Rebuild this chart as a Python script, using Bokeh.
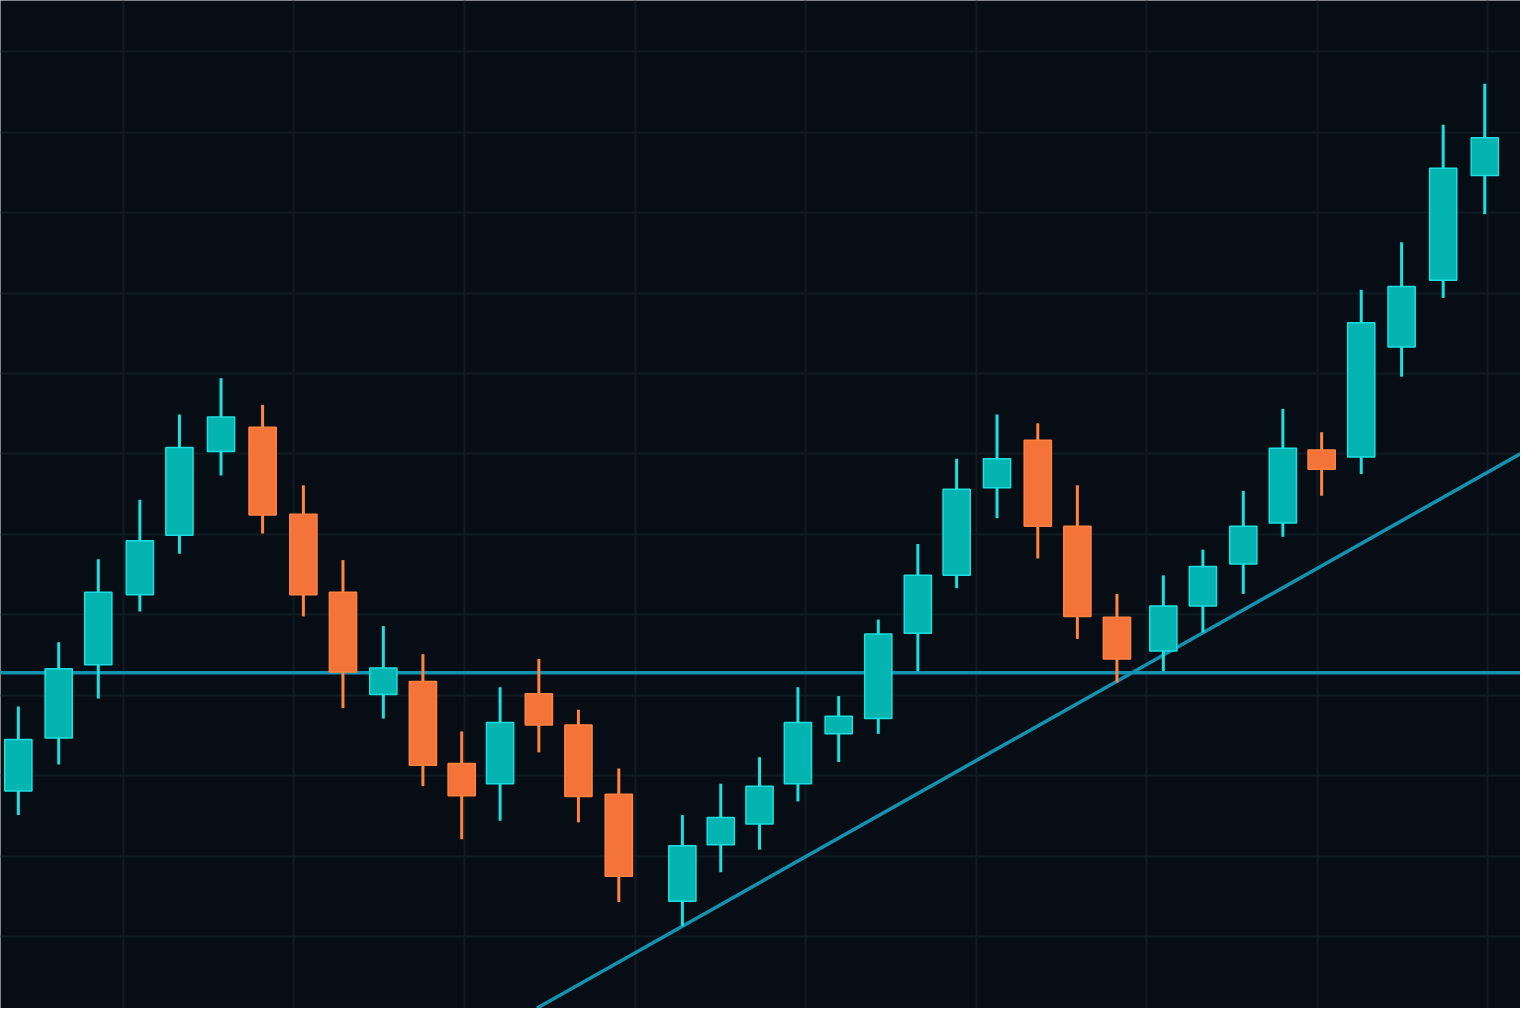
from bokeh.plotting import figure
from bokeh.models import ColumnDataSource, FixedTicker, Range1d
from bokeh.embed import file_html
from bokeh.resources import INLINE

# ---- data (session index, OHLC prices) ----
t = [0, 1.01, 2.0, 3.04, 4.03, 5.07, 6.11, 7.13, 8.12, 9.13, 10.12, 11.09, 12.05,
     13.02, 14.01, 15.02, 16.61, 17.57, 18.54, 19.5, 20.52, 21.51, 22.5, 23.47,
     24.48, 25.5, 26.49, 27.48, 28.64, 29.63, 30.64, 31.63, 32.6, 33.59, 34.6,
     35.64, 36.68]
open_ = [118.1, 124.7, 133.8, 142.5, 149.9, 160.3, 163.3, 152.5, 142.8, 130.1, 131.7,
         121.5, 119.0, 130.2, 126.3, 117.7, 104.4, 111.4, 114.0, 119.0, 125.2, 127.1,
         137.7, 144.9, 155.8, 161.7, 151.0, 139.7, 135.5, 141.1, 146.3, 151.4, 160.5,
         159.6, 173.3, 181.6, 194.6]
high = [128.6, 136.6, 146.9, 154.3, 164.9, 169.4, 166.1, 156.1, 146.8, 138.6, 135.1,
        125.5, 131.0, 134.5, 128.2, 120.9, 115.1, 119.0, 122.3, 131.0, 129.9, 139.4,
        148.8, 159.4, 164.9, 163.8, 156.1, 142.6, 144.9, 148.1, 155.4, 165.6, 162.7,
        180.4, 186.3, 200.9, 206.0]
low = [115.1, 121.4, 129.6, 140.4, 147.6, 157.3, 150.1, 139.8, 128.4, 127.1, 118.7,
       112.1, 114.4, 122.9, 114.2, 104.3, 101.3, 108.0, 110.8, 116.8, 121.7, 125.2,
       133.0, 143.3, 152.0, 147.0, 137.0, 131.6, 133.0, 137.8, 142.6, 149.7, 154.8,
       157.5, 169.6, 179.4, 189.8]
close = [124.5, 133.3, 142.8, 149.2, 160.8, 164.6, 152.4, 142.5, 132.9, 133.4, 121.3,
         117.5, 126.6, 126.3, 117.4, 107.5, 111.3, 114.8, 118.7, 126.6, 127.4, 137.6,
         144.9, 155.6, 159.4, 151.0, 139.8, 134.5, 141.1, 146.0, 151.0, 160.7, 158.1,
         176.3, 180.8, 195.5, 199.3]

support_level = [132.8]
trend_t = [12.97, 37.57]
trend_p = [91.1, 160.0]

x_grid = [2.62, 6.89, 11.16, 15.43, 19.69, 23.96, 28.23, 32.50, 36.76]
y_grid = [90, 100, 110, 120, 130, 140, 150, 160, 170, 180, 190, 200, 210]

# ---- styling ----
BG = "#070d15"
GRID = "#101a23"
UP_FILL, UP_LINE = "#03b4b1", "#1ddfe0"
DN_FILL, DN_LINE = "#f47338", "#ff8442"
LEVEL = "#1592b0"

up = [c >= o for o, c in zip(open_, close)]

def subset(mask):
    idx = [i for i, m in enumerate(mask) if m]
    return ColumnDataSource(dict(
        t=[t[i] for i in idx],
        high=[high[i] for i in idx],
        low=[low[i] for i in idx],
        top=[max(open_[i], close[i]) for i in idx],
        bottom=[min(open_[i], close[i]) for i in idx],
    ))

src_up = subset(up)
src_dn = subset([not u for u in up])

p = figure(width=1520, height=1008, output_backend="svg", toolbar_location=None,
           x_range=Range1d(-0.446, 37.574), y_range=Range1d(91.06, 216.36),
           min_border=0, background_fill_color=BG, border_fill_color=BG,
           outline_line_color=None)
p.axis.visible = False
p.xgrid.ticker = FixedTicker(ticks=x_grid)
p.ygrid.ticker = FixedTicker(ticks=y_grid)
p.grid.grid_line_color = GRID
p.grid.grid_line_width = 2

# support level and trend line
p.line(x=[-1, 39], y=[support_level[0], support_level[0]], line_color=LEVEL, line_width=3.5)
p.line(x=trend_t, y=trend_p, line_color=LEVEL, line_width=3.5)

# candles
for src, fill, edge in ((src_up, UP_FILL, UP_LINE), (src_dn, DN_FILL, DN_LINE)):
    p.segment(x0="t", y0="high", x1="t", y1="low", source=src,
              line_color=edge, line_width=3)
    p.vbar(x="t", top="top", bottom="bottom", width=0.68, source=src,
           fill_color=fill, line_color=edge, line_width=1.5)

open("out.html", "w").write(file_html(p, INLINE))
